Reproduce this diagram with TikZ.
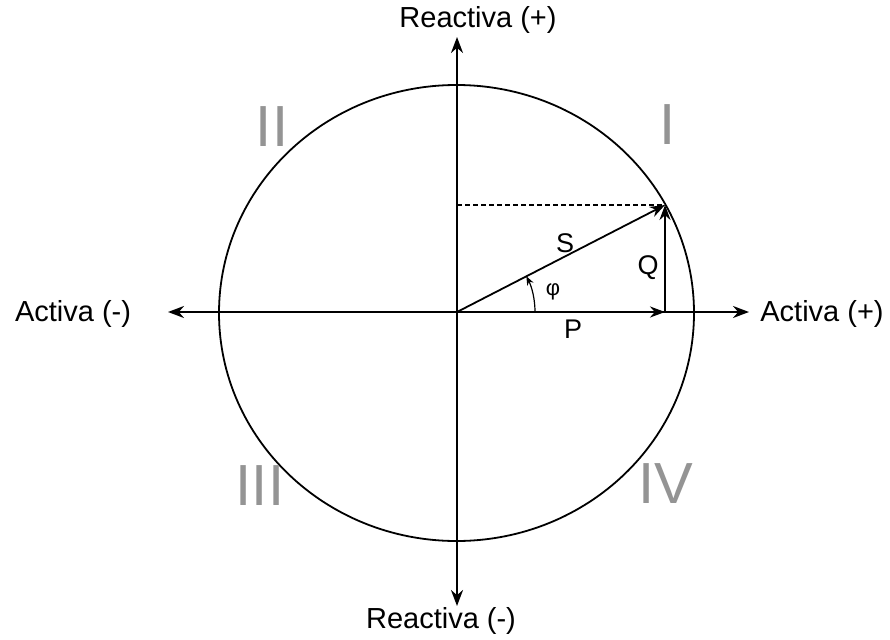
\documentclass[tikz,border=0pt]{standalone}
\usepackage{fontspec}
\setmainfont{Liberation Sans}
\usetikzlibrary{arrows.meta}
\begin{document}
\begin{tikzpicture}[x=1pt,y=-1pt,
  axis/.style={line width=2.4pt,-{Stealth[length=16pt,width=12pt]}},
  vec/.style={line width=2.4pt,-{Stealth[length=15pt,width=11pt]}},
  lbl/.style={inner sep=0pt,font=\fontsize{29}{29}\selectfont},
  quad/.style={inner sep=0pt,text=black!42,font=\fontsize{58}{58}\selectfont}]
\useasboundingbox (0,0) rectangle (890,639);
\fill[white] (0,0) rectangle (890,639);
\coordinate (O) at (457,312);
\coordinate (T) at (457,37);
\coordinate (B) at (457,606);
\coordinate (L) at (168,312);
\coordinate (R) at (749,312);
\coordinate (Pend) at (665,312);
\coordinate (Send) at (665,205);
\coordinate (Dstart) at (457,205);
% circle
\draw[line width=1.8pt] (456.5,313) ellipse [x radius=237.5, y radius=228];
% axes
\draw[axis] (O) -- (T);
\draw[axis] (O) -- (B);
\draw[axis] (O) -- (L);
\draw[axis] (O) -- (R);
% vectors
\draw[line width=1.6pt, dash pattern=on 5pt off 3pt] (Dstart) -- (Send);
\draw[vec] (O) -- (Pend);
\draw[vec] (Pend) -- (Send);
\draw[line width=1.8pt,-{Stealth[length=15pt,width=11pt]}] (O) -- (Send);
% phi arc
\draw[line width=1.2pt,-{Stealth[length=9pt,width=7pt]}] (535,312) arc[start angle=0,end angle=-27.3,radius=78];
% labels
\node[lbl] (rp) at (478,20) {Reactiva (+)};
\node[lbl] (rm) at (441,621) {Reactiva (-)};
\node[lbl] (am) at (73,314) {Activa (-)};
\node[lbl] (ap) at (822,314) {Activa (+)};
\node[lbl,font=\fontsize{27}{27}\selectfont] (S) at (565,243) {S};
\node[lbl,font=\fontsize{27}{27}\selectfont] (Q) at (648,268) {Q};
\node[lbl,font=\fontsize{27}{27}\selectfont] (P) at (573,329) {P};
\node[lbl,font=\fontsize{22}{22}\selectfont] (phi) at (553,292) {φ};
% quadrant numerals
\node[quad] (q1) at (668,125) {I};
\node[quad] (q2) at (272,127) {II};
\node[quad] (q3) at (260,486) {III};
\node[quad] (q4) at (666,484) {IV};
\end{tikzpicture}
\end{document}
